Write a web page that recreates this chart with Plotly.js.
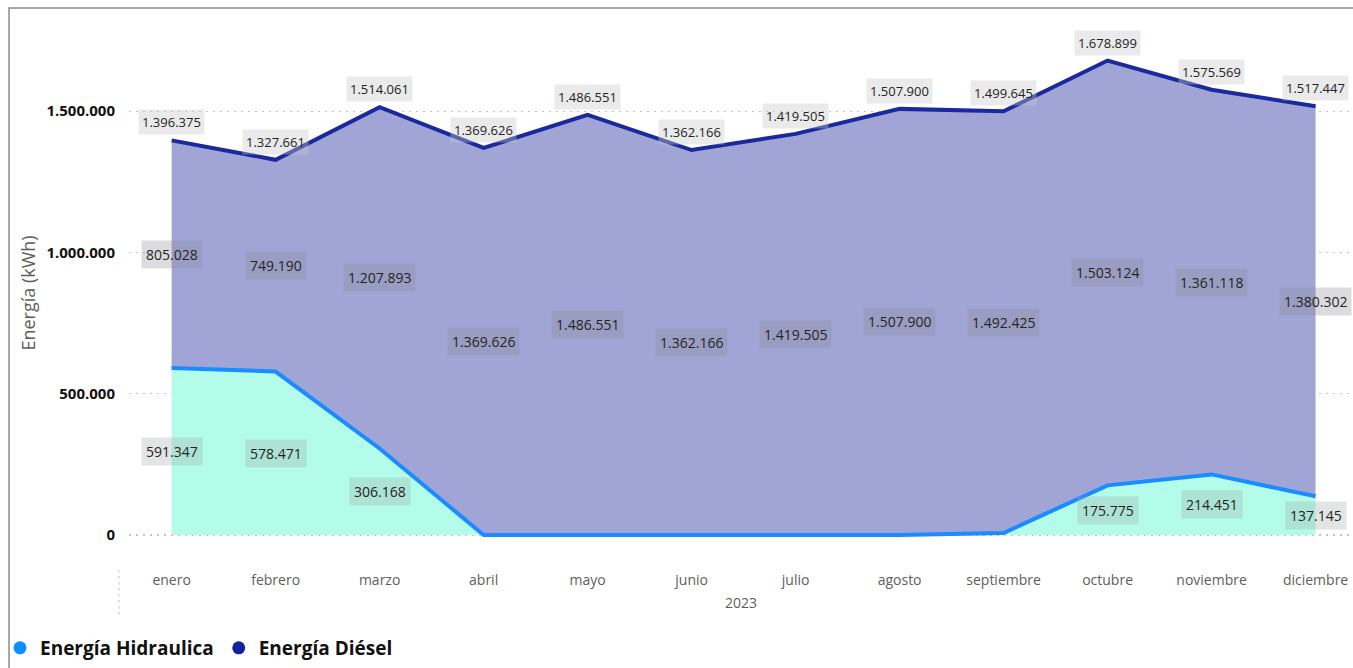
<!DOCTYPE html>
<html>
<head>
<meta charset="utf-8">
<script src="https://cdn.plot.ly/plotly-3.0.1.min.js"></script>
<style>
  html, body { margin: 0; padding: 0; background: #fff; }
  #chart { width: 1353px; height: 668px; }
</style>
</head>
<body>
<div id="chart"></div>
<script>
const months = ["enero", "febrero", "marzo", "abril", "mayo", "junio", "julio",
  "agosto", "septiembre", "octubre", "noviembre", "diciembre"];
const hidraulica = [591347, 578471, 306168, 0, 0, 0, 0, 0, 7220, 175775, 214451, 137145];
const diesel = [805028, 749190, 1207893, 1369626, 1486551, 1362166, 1419505,
  1507900, 1492425, 1503124, 1361118, 1380302];
const yearLabel = "2023";

const FONT = "'Open Sans', 'Noto Sans', sans-serif";

// thousands with dots, like the original
function fmt(v) {
  return Math.round(v).toString().replace(/\B(?=(\d{3})+(?!\d))/g, ".");
}

const totals = months.map((m, i) => hidraulica[i] + diesel[i]);

const traceHidro = {
  x: months,
  y: hidraulica,
  name: "Energía Hidraulica",
  type: "scatter",
  mode: "lines",
  stackgroup: "one",
  line: { color: "#1a8cff", width: 4 },
  fillcolor: "#b2fce9",
  showlegend: false,
  hoverinfo: "skip",
};

const traceDiesel = {
  x: months,
  y: diesel,
  name: "Energía Diésel",
  type: "scatter",
  mode: "lines",
  stackgroup: "one",
  line: { color: "#1a2a9e", width: 4 },
  fillcolor: "#a0a5d6",
  showlegend: false,
  hoverinfo: "skip",
};

// legend entries with round markers
const legHidro = {
  x: [null], y: [null], type: "scatter", mode: "markers",
  name: "Energía Hidraulica", marker: { color: "#118dff", size: 13 },
};
const legDiesel = {
  x: [null], y: [null], type: "scatter", mode: "markers",
  name: "Energía Diésel", marker: { color: "#12239e", size: 13 },
};

const annotations = [];
months.forEach((m, i) => {
  // total above the top line
  annotations.push({
    x: m, y: totals[i], xref: "x", yref: "y",
    text: fmt(totals[i]), showarrow: false, yshift: 18,
    font: { family: FONT, size: 13, color: "#252423" },
    bgcolor: "rgba(200,200,200,0.38)", borderpad: 3,
  });
  // diesel in the middle of its band
  annotations.push({
    x: m, y: hidraulica[i] + diesel[i] / 2, xref: "x", yref: "y",
    text: fmt(diesel[i]), showarrow: false,
    font: { family: FONT, size: 14, color: "#252423" },
    bgcolor: "rgba(140,140,150,0.3)", borderpad: 4,
  });
  if (hidraulica[i] > 50000) {
    annotations.push({
      x: m, y: hidraulica[i] / 2, xref: "x", yref: "y",
      text: fmt(hidraulica[i]), showarrow: false,
      font: { family: FONT, size: 14, color: "#252423" },
      bgcolor: "rgba(160,170,165,0.3)", borderpad: 4,
    });
  }
});

const layout = {
  width: 1353,
  height: 668,
  margin: { l: 129, r: 0, t: 20, b: 102 },
  paper_bgcolor: "#ffffff",
  plot_bgcolor: "#ffffff",
  font: { family: FONT, color: "#252423" },
  separators: ",.",
  showlegend: true,
  legend: {
    orientation: "h",
    traceorder: "normal",
    xref: "container", yref: "container",
    x: -0.004, y: 0.03, xanchor: "left", yanchor: "middle",
    bgcolor: "rgba(0,0,0,0)",
    font: { family: FONT, size: 19, color: "#111", weight: "bold" },
    itemwidth: 30,
    tracegroupgap: 0,
  },
  xaxis: {
    type: "category",
    range: [-0.41, 11.36],
    showgrid: false,
    zeroline: false,
    showline: false,
    ticks: "outside",
    ticklen: 1,
    tickcolor: "rgba(0,0,0,0)",
    tickfont: { family: FONT, size: 14, color: "#605e5c" },
    title: { text: yearLabel, font: { family: FONT, size: 14, color: "#605e5c" }, standoff: 10 },
  },
  yaxis: {
    range: [-109700, 1822400],
    tickvals: [0, 500000, 1000000, 1500000],
    tickformat: ",d",
    showgrid: true,
    gridcolor: "#c4c4c4",
    griddash: "2px,5px",
    gridwidth: 1.2,
    zeroline: false,
    showline: false,
    ticks: "outside",
    ticklen: 10,
    tickcolor: "rgba(0,0,0,0)",
    tickfont: { family: FONT, size: 15, color: "#111", weight: "bold" },
    title: { text: "Energía (kWh)", font: { family: FONT, size: 18, color: "#605e5c" }, standoff: 6 },
  },
  shapes: [
    // frame
    {
      type: "rect", xref: "paper", yref: "paper",
      x0: -0.098, x1: 1.2, y0: -0.4, y1: 1.022,
      line: { color: "#8a8a8a", width: 1.5 }, fillcolor: "rgba(0,0,0,0)",
      layer: "below",
    },
    // dotted separator of the year level
    {
      type: "line", xref: "paper", yref: "paper",
      x0: -0.0082, x1: -0.0082, y0: -0.007, y1: -0.09,
      line: { color: "#c8c8c8", width: 1, dash: "dot" },
    },
  ],
  annotations: annotations,
};

Plotly.newPlot("chart", [traceHidro, traceDiesel, legHidro, legDiesel], layout, {
  displayModeBar: false,
  staticPlot: true,
});
</script>
</body>
</html>
